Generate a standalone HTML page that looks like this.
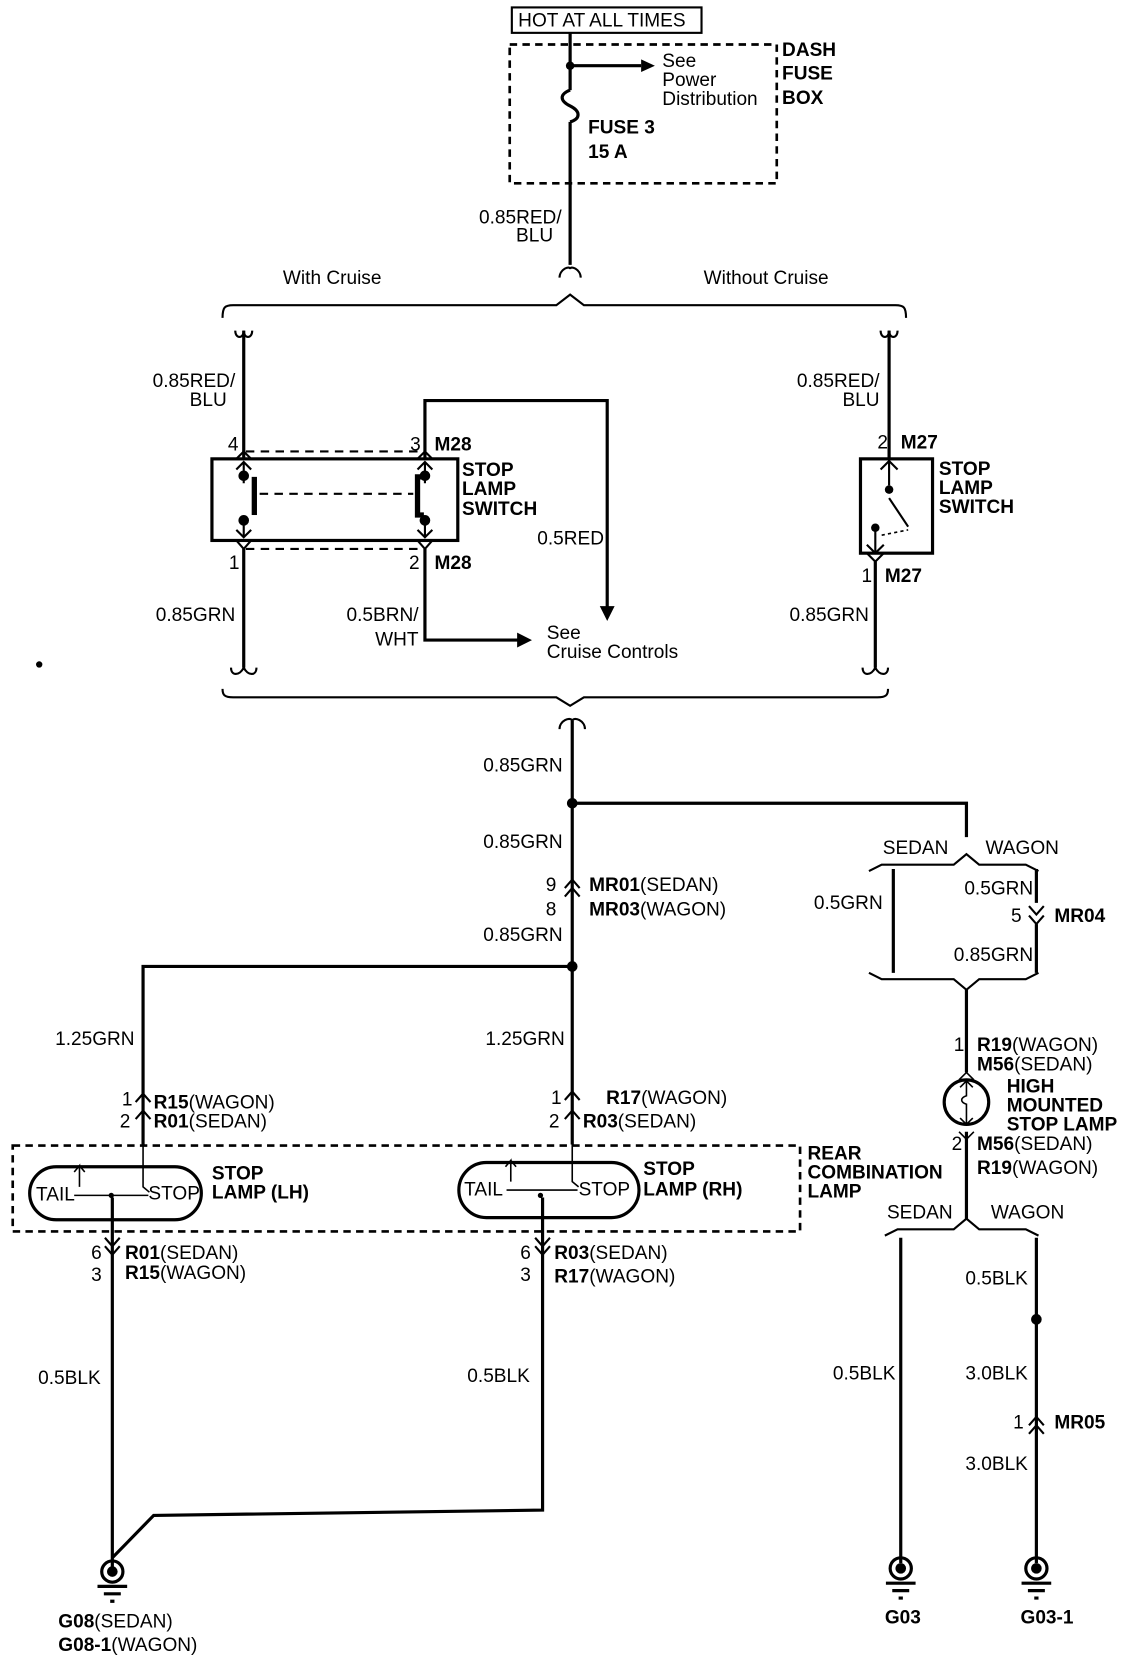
<!DOCTYPE html>
<html><head><meta charset="utf-8"><style>
html,body{margin:0;padding:0;background:#fff;width:1136px;height:1668px;overflow:hidden}
svg{display:block}
text{font-family:"Liberation Sans",sans-serif;font-size:18px;fill:#000}
.b{font-weight:bold}
.r{text-anchor:end}
</style></head><body>
<svg width="1136" height="1668" viewBox="0 0 1072 1574" preserveAspectRatio="none" xmlns="http://www.w3.org/2000/svg">
<g fill="none" stroke="#000" stroke-width="3">
<rect x="483" y="7" width="179" height="24" stroke-width="2"/>
<rect x="481" y="42" width="252" height="131" stroke-dasharray="7,5" stroke-width="2.5"/>
<path d="M538 31V85 M538 115V250 M538 85c-10 4-10 10 0 15c10 5 10 12 0 15"/>
<path d="M538 62H605"/>
<path d="M528 262c0-8 10-12 10-8 M548 262c0-8-10-12-10-8" stroke-width="2"/>
<path d="M210 300c0-10 2-12 10-12H525l13-10 13 10H845c8 0 10 2 10 12" stroke-width="2"/>
<path d="M222 312c0 8 8 8 8 0 M238 312c0 8-8 8-8 0 M831 312c0 8 8 8 8 0 M847 312c0 8-8 8-8 0" stroke-width="2"/>
<path d="M230 312V433 M839 312V433"/>
<path d="M401 433V378H573V575"/>
<rect x="200" y="433" width="232" height="77"/>
<path d="M232 426H401 M232 518H401" stroke-dasharray="8,6" stroke-width="2"/>
<path d="M245 466H390" stroke-dasharray="8,6" stroke-width="2"/>
<path d="M240 450V486" stroke-width="5"/>
<path d="M400 450H394V486H400" stroke-width="5"/>
<path d="M230 436V456 M230 488V506 M401 436V456 M401 488V506" stroke-width="2"/>
<path d="M223 433l7-7 7 7 M394 433l7-7 7 7 M223 443l7-7 7 7 M394 443l7-7 7 7 M223 500l7 7 7-7 M394 500l7 7 7-7 M223 510l7 8 7-8 M394 510l7 8 7-8" stroke-width="2"/>
<path d="M230 518V630 M401 518V604H490"/>
<rect x="812" y="433" width="68" height="89"/>
<path d="M839 433V458 M839 470L857 497 M826 500V522" stroke-width="2"/>
<path d="M831 443l8-8 8 8 M818 514l8 8 8-8 M818 522l8 8 8-8" stroke-width="2"/>
<path d="M832 505L857 500" stroke-dasharray="3,3" stroke-width="1.5"/>
<path d="M826 530V630"/>
<path d="M218 630c0 8 8 8 12 0 M242 630c0 8-8 8-12 0 M814 630c0 8 8 8 12 0 M838 630c0 8-8 8-12 0" stroke-width="2"/>
<path d="M210 650c0 6 2 8 10 8H525l13 8 13-8H828c8 0 10-2 10-8" stroke-width="2"/>
<path d="M528 688c0-8 10-12 12-8 M552 688c0-8-10-12-12-8" stroke-width="2"/>
<path d="M540 680V1080 M540 758H912V790"/>
<path d="M533 838l7-8 7 8 M533 846l7-8 7 8" stroke-width="2"/>
<path d="M540 912H135V1080"/>
<path d="M820 822l12-6H900l12-10 12 10H968l12 6 M820 918l12 6H900l12 10 12-10H968l12-6" stroke-width="2"/>
<path d="M843 820V918 M978 820V852 M978 872V918"/>
<path d="M971 855l7 8 7-8 M971 864l7 8 7-8" stroke-width="2"/>
<path d="M912 934V1012 M912 1068V1150"/>
<circle cx="912" cy="1040" r="21"/>
<path d="M912 1020V1034c-6 2-6 6 0 8v18 M906 1026l6-6 6 6 M906 1055l6 6 6-6 M905 1019l7-7 7 7 M905 1068l7 7 7-7" stroke-width="1.5"/>
<path d="M835 1166l12-6H900l12-10 12 10H968l12 6" stroke-width="2"/>
<path d="M850 1168V1475 M978 1168V1475"/>
<path d="M971 1345l7-8 7 8 M971 1353l7-8 7 8" stroke-width="2"/>
<rect x="12" y="1081" width="743" height="81" stroke-dasharray="7,5" stroke-width="2.5"/>
<rect x="28" y="1101" width="162" height="50" rx="25"/>
<rect x="433" y="1097" width="170" height="52" rx="26"/>
<path d="M128 1040l7-8 7 8 M128 1056l7-8 7 8 M533 1038l7-8 7 8 M533 1056l7-8 7 8" stroke-width="2"/>
<path d="M135 1056V1120l6 5 M75 1120V1100l-5 6 M75 1100l5 6 M70 1128H140" stroke-width="1.5"/>
<path d="M540 1056V1115l6 5 M482 1115V1095l-5 6 M482 1095l5 6 M478 1123H545" stroke-width="1.5"/>
<path d="M106 1130V1480 M512 1130V1425L145 1430L106 1470"/>
<path d="M99 1168l7 8 7-8 M99 1176l7 8 7-8 M505 1168l7 8 7-8 M505 1176l7 8 7-8" stroke-width="2"/>
</g>
<g fill="#000">
<polygon points="605,56 618,62 605,68"/>
<polygon points="566,572 580,572 573,586"/>
<polygon points="488,597 502,604 488,611"/>
<circle cx="538" cy="62" r="4"/>
<circle cx="540" cy="758" r="5"/><circle cx="540" cy="912" r="5"/><circle cx="978" cy="1245" r="5"/>
<circle cx="230" cy="449" r="5"/><circle cx="230" cy="491" r="5"/><circle cx="401" cy="449" r="5"/><circle cx="401" cy="491" r="5"/>
<circle cx="839" cy="462" r="4"/><circle cx="826" cy="498" r="4"/>
<circle cx="37" cy="627" r="3"/>
<circle cx="105" cy="1128" r="2.5"/><circle cx="510" cy="1128" r="2.5"/>
</g>
<g fill="none" stroke="#000" stroke-width="3">
<circle cx="106" cy="1483" r="10"/><circle cx="850" cy="1480" r="10"/><circle cx="978" cy="1480" r="10"/>
<path d="M92 1497H120 M98 1504H114 M104 1511H108 M836 1494H864 M842 1501H858 M848 1508H852 M964 1494H992 M970 1501H986 M976 1508H980"/>
</g>
<g fill="#000"><circle cx="106" cy="1483" r="5"/><circle cx="850" cy="1480" r="5"/><circle cx="978" cy="1480" r="5"/></g>

<text x="489" y="25">HOT AT ALL TIMES</text>
<text x="625" y="63">See</text><text x="625" y="81">Power</text><text x="625" y="99">Distribution</text>
<text x="738" y="53" class="b">DASH</text><text x="738" y="75" class="b">FUSE</text><text x="738" y="98" class="b">BOX</text>
<text x="555" y="126" class="b">FUSE 3</text><text x="555" y="149" class="b">15 A</text>
<text x="530" y="211" class="r">0.85RED/</text><text x="522" y="228" class="r">BLU</text>
<text x="267" y="268">With Cruise</text><text x="664" y="268">Without Cruise</text>
<text x="222" y="365" class="r">0.85RED/</text><text x="214" y="383" class="r">BLU</text>
<text x="830" y="365" class="r">0.85RED/</text><text x="830" y="383" class="r">BLU</text>
<text x="215" y="425">4</text><text x="387" y="425">3</text><text x="410" y="425" class="b">M28</text>
<text x="436" y="449" class="b">STOP</text><text x="436" y="467" class="b">LAMP</text><text x="436" y="486" class="b">SWITCH</text>
<text x="216" y="537">1</text><text x="386" y="537">2</text><text x="410" y="537" class="b">M28</text>
<text x="570" y="514" class="r">0.5RED</text>
<text x="222" y="586" class="r">0.85GRN</text>
<text x="395" y="586" class="r">0.5BRN/</text><text x="395" y="609" class="r">WHT</text>
<text x="516" y="603">See</text><text x="516" y="621">Cruise Controls</text>
<text x="828" y="423">2</text><text x="850" y="423" class="b">M27</text>
<text x="886" y="448" class="b">STOP</text><text x="886" y="466" class="b">LAMP</text><text x="886" y="484" class="b">SWITCH</text>
<text x="813" y="549">1</text><text x="835" y="549" class="b">M27</text>
<text x="820" y="586" class="r">0.85GRN</text>
<text x="531" y="728" class="r">0.85GRN</text>
<text x="531" y="800" class="r">0.85GRN</text>
<text x="515" y="841">9</text><text x="556" y="841"><tspan class="b">MR01</tspan>(SEDAN)</text>
<text x="515" y="864">8</text><text x="556" y="864"><tspan class="b">MR03</tspan>(WAGON)</text>
<text x="531" y="888" class="r">0.85GRN</text>
<text x="833" y="806">SEDAN</text><text x="930" y="806">WAGON</text>
<text x="833" y="858" class="r">0.5GRN</text>
<text x="975" y="844" class="r">0.5GRN</text>
<text x="954" y="870">5</text><text x="995" y="870" class="b">MR04</text>
<text x="975" y="907" class="r">0.85GRN</text>
<text x="127" y="986" class="r">1.25GRN</text><text x="533" y="986" class="r">1.25GRN</text>
<text x="115" y="1043">1</text><text x="145" y="1046"><tspan class="b">R15</tspan>(WAGON)</text>
<text x="113" y="1064">2</text><text x="145" y="1064"><tspan class="b">R01</tspan>(SEDAN)</text>
<text x="520" y="1042">1</text><text x="572" y="1042"><tspan class="b">R17</tspan>(WAGON)</text>
<text x="518" y="1064">2</text><text x="550" y="1064"><tspan class="b">R03</tspan>(SEDAN)</text>
<text x="900" y="992">1</text><text x="922" y="992"><tspan class="b">R19</tspan>(WAGON)</text>
<text x="922" y="1010"><tspan class="b">M56</tspan>(SEDAN)</text>
<text x="950" y="1031" class="b">HIGH</text><text x="950" y="1049" class="b">MOUNTED</text><text x="950" y="1067" class="b">STOP LAMP</text>
<text x="898" y="1085">2</text><text x="922" y="1085"><tspan class="b">M56</tspan>(SEDAN)</text>
<text x="922" y="1108"><tspan class="b">R19</tspan>(WAGON)</text>
<text x="762" y="1094" class="b">REAR</text><text x="762" y="1112" class="b">COMBINATION</text><text x="762" y="1130" class="b">LAMP</text>
<text x="34" y="1133">TAIL</text><text x="140" y="1132">STOP</text>
<text x="438" y="1128">TAIL</text><text x="546" y="1128">STOP</text>
<text x="200" y="1113" class="b">STOP</text><text x="200" y="1131" class="b">LAMP (LH)</text>
<text x="607" y="1109" class="b">STOP</text><text x="607" y="1128" class="b">LAMP (RH)</text>
<text x="837" y="1150">SEDAN</text><text x="935" y="1150">WAGON</text>
<text x="86" y="1188">6</text><text x="118" y="1188"><tspan class="b">R01</tspan>(SEDAN)</text>
<text x="86" y="1209">3</text><text x="118" y="1207"><tspan class="b">R15</tspan>(WAGON)</text>
<text x="491" y="1188">6</text><text x="523" y="1188"><tspan class="b">R03</tspan>(SEDAN)</text>
<text x="491" y="1209">3</text><text x="523" y="1210"><tspan class="b">R17</tspan>(WAGON)</text>
<text x="970" y="1212" class="r">0.5BLK</text>
<text x="95" y="1306" class="r">0.5BLK</text><text x="500" y="1304" class="r">0.5BLK</text>
<text x="845" y="1302" class="r">0.5BLK</text><text x="970" y="1302" class="r">3.0BLK</text>
<text x="956" y="1348">1</text><text x="995" y="1348" class="b">MR05</text>
<text x="970" y="1387" class="r">3.0BLK</text>
<text x="55" y="1536"><tspan class="b">G08</tspan>(SEDAN)</text>
<text x="55" y="1558"><tspan class="b">G08-1</tspan>(WAGON)</text>
<text x="835" y="1532" class="b">G03</text><text x="963" y="1532" class="b">G03-1</text>
</svg>
</body></html>
